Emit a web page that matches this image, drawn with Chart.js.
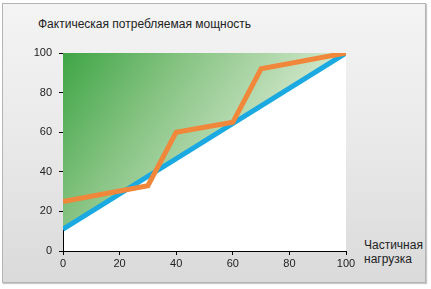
<!DOCTYPE html>
<html lang="ru">
<head>
  <meta charset="UTF-8" />
  <title>Фактическая потребляемая мощность</title>
  <script src="https://cdn.jsdelivr.net/npm/chart.js"></script>
  <style>
    html, body { margin: 0; padding: 0; background: #fff; }
    body { width: 431px; height: 289px; position: relative; overflow: hidden; font-family: "Liberation Sans", Arial, sans-serif; }
    .panel {
      position: absolute; left: 2px; top: 3px; width: 422px; height: 278px;
      border: 1px solid #b4b4b4;
      background: linear-gradient(to bottom, #f4f4f4 0%, #e9e9e9 50%, #dadada 100%);
      box-shadow: 1px 1px 1px #c8c8c8;
    }
    .title { position: absolute; left: 38px; top: 17px; font-size: 12px; color: #222; }
    .xlabel { position: absolute; left: 364px; top: 238px; font-size: 12px; line-height: 14px; color: #222; }
    #chart { position: absolute; left: 0; top: 0; }
  </style>
</head>
<body>
  <div class="panel"></div>
  <div class="title">Фактическая потребляемая мощность</div>
  <div class="xlabel">Частичная<br>нагрузка</div>
  <canvas id="chart" width="431" height="289"></canvas>

  <script>
    // load % (x axis)
    const xTicks = [0, 20, 40, 60, 80, 100];
    const yTicks = [0, 20, 40, 60, 80, 100];

    // ideal (proportional) consumption
    const idealX = [0, 100];
    const idealY = [11, 100];

    // actual consumption
    const actualX = [0, 30, 40, 60, 70, 100];
    const actualY = [25, 33, 60, 65, 92, 100];

    const toPoints = (xs, ys) => xs.map((x, i) => ({ x: x, y: ys[i] }));

    const greenFill = (context) => {
      const area = context.chart.chartArea;
      if (!area) return 'rgba(80,170,80,0.6)';
      const g = context.chart.ctx.createLinearGradient(area.left, area.top, area.right, area.bottom);
      g.addColorStop(0, '#3ea545');
      g.addColorStop(0.3, '#88c484');
      g.addColorStop(0.65, '#cfe6c9');
      g.addColorStop(1, '#eef6eb');
      return g;
    };

    const whiteArea = {
      id: 'whiteArea',
      beforeDraw(chart) {
        const a = chart.chartArea;
        chart.ctx.save();
        chart.ctx.fillStyle = '#ffffff';
        chart.ctx.fillRect(a.left, a.top, a.right - a.left, a.bottom - a.top);
        chart.ctx.restore();
      }
    };

    Chart.defaults.font.family = '"Liberation Sans", Arial, sans-serif';
    Chart.defaults.color = '#222';

    new Chart(document.getElementById('chart'), {
      type: 'scatter',
      data: {
        datasets: [
          {
            label: 'Фактическая',
            data: toPoints(actualX, actualY),
            showLine: true,
            borderColor: '#f0873a',
            borderWidth: 5,
            pointRadius: 0,
            fill: false,
            order: 0
          },
          {
            label: 'Идеальная',
            data: toPoints(idealX, idealY),
            showLine: true,
            borderColor: '#1ba9e1',
            borderWidth: 5,
            pointRadius: 0,
            fill: 'end',
            backgroundColor: greenFill,
            order: 1
          }
        ]
      },
      options: {
        responsive: false,
        animation: false,
        layout: { padding: { left: 0, top: 53, right: 85, bottom: 0 } },
        plugins: {
          legend: { display: false },
          tooltip: { enabled: false }
        },
        scales: {
          x: {
            type: 'linear', min: 0, max: 100,
            afterBuildTicks: (s) => { s.ticks = xTicks.map(v => ({ value: v })); },
            afterFit: (s) => { s.height = 38; },
            grid: { drawOnChartArea: false, drawTicks: true, tickLength: 4, color: '#000' },
            border: { color: '#000', width: 1 },
            ticks: { font: { size: 11 }, padding: 2, maxRotation: 0 }
          },
          y: {
            type: 'linear', min: 0, max: 100,
            afterBuildTicks: (s) => { s.ticks = yTicks.map(v => ({ value: v })); },
            afterFit: (s) => { s.width = 63; },
            grid: { drawOnChartArea: false, drawTicks: true, tickLength: 4, color: '#000' },
            border: { color: '#000', width: 1 },
            ticks: { font: { size: 11 }, padding: 7 }
          }
        }
      },
      plugins: [whiteArea]
    });
  </script>
</body>
</html>
